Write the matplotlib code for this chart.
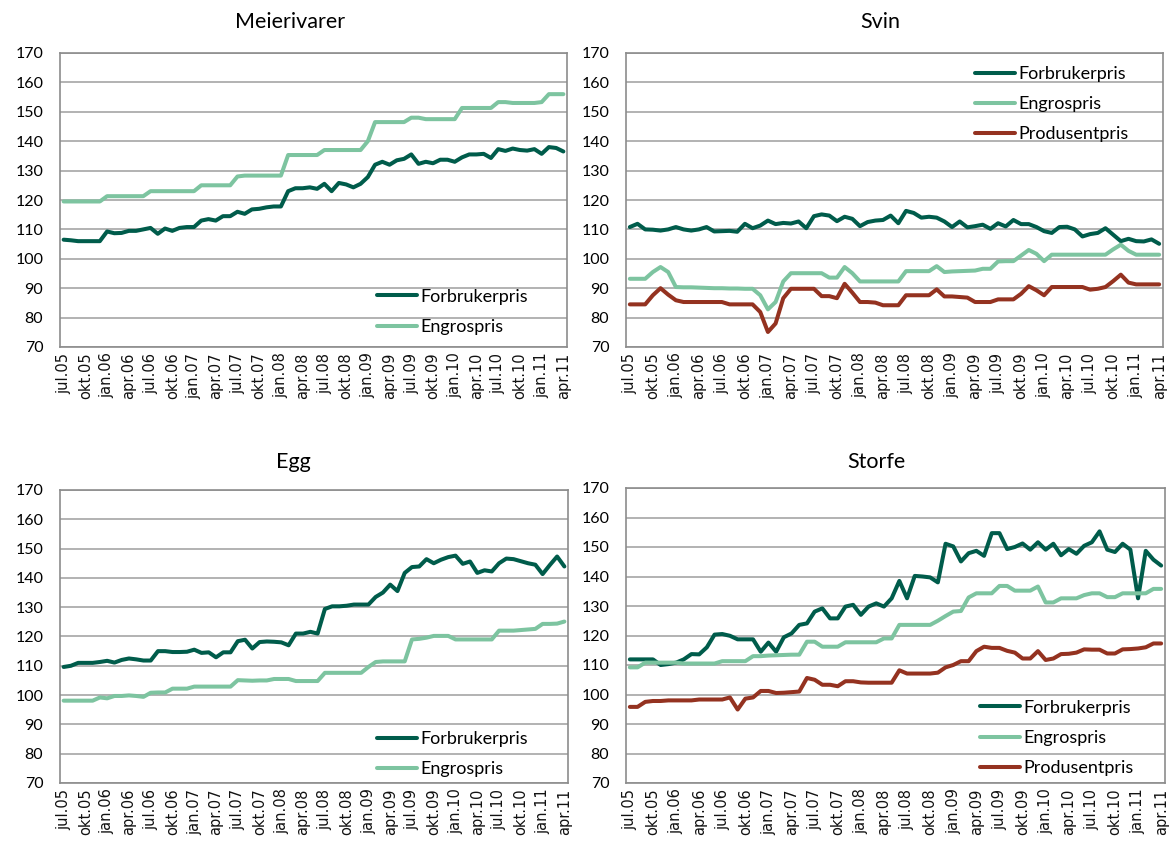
import matplotlib
matplotlib.use("Agg")
import matplotlib.pyplot as plt

# ---------------- data ----------------
tick_labels = ["jul.05", "okt.05", "jan.06", "apr.06", "jul.06", "okt.06",
               "jan.07", "apr.07", "jul.07", "okt.07", "jan.08", "apr.08",
               "jul.08", "okt.08", "jan.09", "apr.09", "jul.09", "okt.09",
               "jan.10", "apr.10", "jul.10", "okt.10", "jan.11", "apr.11"]

meieri_forbruker = [106.5, 106.3, 106.0, 106.0, 106.0, 106.0, 109.3, 108.7, 108.8, 109.5,
                    109.5, 110.0, 110.5, 108.5, 110.3, 109.5, 110.5, 110.8, 110.8, 113.0,
                    113.5, 113.0, 114.5, 114.5, 116.0, 115.3, 116.8, 117.0, 117.5, 117.8,
                    117.8, 123.0, 124.0, 124.0, 124.3, 123.8, 125.5, 123.0, 125.8, 125.3,
                    124.3, 125.5, 127.8, 132.0, 133.0, 132.0, 133.5, 134.0, 135.5, 132.3,
                    133.0, 132.5, 133.7, 133.7, 133.0, 134.5, 135.5, 135.5, 135.7, 134.3,
                    137.3, 136.7, 137.5, 137.0, 136.8, 137.3, 135.7, 138.0, 137.7, 136.5]
meieri_engros = [119.5, 119.5, 119.5, 119.5, 119.5, 119.5, 121.3, 121.3, 121.3, 121.3,
                 121.3, 121.3, 123.0, 123.0, 123.0, 123.0, 123.0, 123.0, 123.0, 125.0,
                 125.0, 125.0, 125.0, 125.0, 128.0, 128.3, 128.3, 128.3, 128.3, 128.3,
                 128.3, 135.3, 135.3, 135.3, 135.3, 135.3, 137.0, 137.0, 137.0, 137.0,
                 137.0, 137.0, 140.0, 146.5, 146.5, 146.5, 146.5, 146.5, 148.0, 148.0,
                 147.5, 147.5, 147.5, 147.5, 147.5, 151.3, 151.3, 151.3, 151.3, 151.3,
                 153.3, 153.3, 153.0, 153.0, 153.0, 153.0, 153.3, 156.0, 156.0, 156.0]

svin_forbruker = [110.8, 111.9, 110.0, 109.9, 109.6, 110.0, 110.8, 110.0, 109.6, 110.0,
                  110.8, 109.3, 109.4, 109.5, 109.2, 111.9, 110.4, 111.3, 113.0, 111.8,
                  112.2, 112.0, 112.7, 110.4, 114.5, 115.1, 114.7, 112.8, 114.3, 113.6,
                  111.1, 112.5, 113.0, 113.2, 114.7, 112.1, 116.3, 115.6, 114.0, 114.3,
                  114.0, 112.7, 110.8, 112.7, 110.7, 111.1, 111.6, 110.2, 112.1, 111.0,
                  113.2, 111.8, 111.8, 110.8, 109.4, 108.8, 110.8, 110.9, 110.0, 107.6,
                  108.4, 108.8, 110.4, 108.2, 106.0, 106.8, 106.0, 105.9, 106.6, 105.1]
svin_engros = [93.2, 93.2, 93.2, 95.5, 97.2, 95.5, 90.4, 90.3, 90.3, 90.2,
               90.1, 90.0, 90.0, 89.9, 89.9, 89.8, 89.8, 87.6, 82.8, 85.3,
               92.3, 95.1, 95.1, 95.1, 95.1, 95.1, 93.6, 93.6, 97.2, 95.1,
               92.3, 92.3, 92.3, 92.3, 92.3, 92.3, 95.8, 95.8, 95.8, 95.8,
               97.5, 95.5, 95.7, 95.8, 95.9, 96.0, 96.6, 96.6, 99.1, 99.2,
               99.2, 101.1, 103.0, 101.7, 99.2, 101.4, 101.4, 101.4, 101.4, 101.4,
               101.4, 101.4, 101.4, 103.2, 104.8, 102.7, 101.4, 101.4, 101.4, 101.4]
svin_produsent = [84.5, 84.5, 84.5, 87.6, 90.0, 87.8, 85.9, 85.3, 85.3, 85.3,
                  85.3, 85.3, 85.3, 84.5, 84.5, 84.5, 84.5, 81.9, 75.1, 78.0,
                  86.6, 89.8, 89.8, 89.8, 89.8, 87.3, 87.3, 86.6, 91.5, 88.5,
                  85.3, 85.3, 85.1, 84.2, 84.2, 84.2, 87.6, 87.6, 87.6, 87.6,
                  89.6, 87.2, 87.2, 87.0, 86.8, 85.3, 85.3, 85.3, 86.2, 86.2,
                  86.2, 88.1, 90.7, 89.3, 87.6, 90.4, 90.4, 90.4, 90.4, 90.4,
                  89.5, 89.8, 90.4, 92.4, 94.6, 91.9, 91.3, 91.3, 91.3, 91.3]

egg_forbruker = [109.6, 110.0, 111.0, 111.0, 111.0, 111.3, 111.7, 111.1, 112.0, 112.5,
                 112.2, 111.8, 111.8, 115.0, 115.0, 114.7, 114.7, 114.8, 115.5, 114.4,
                 114.6, 112.9, 114.6, 114.6, 118.4, 118.9, 115.9, 118.1, 118.3, 118.2,
                 118.0, 117.0, 121.0, 121.0, 121.6, 121.0, 129.4, 130.3, 130.3, 130.5,
                 130.9, 130.9, 130.9, 133.5, 135.0, 137.7, 135.5, 141.7, 143.7, 143.9,
                 146.4, 145.0, 146.2, 147.1, 147.6, 144.8, 145.6, 141.7, 142.6, 142.2,
                 145.0, 146.6, 146.4, 145.7, 145.0, 144.5, 141.3, 144.4, 147.3, 143.9]
egg_engros = [98.1, 98.1, 98.1, 98.1, 98.1, 99.2, 98.9, 99.7, 99.7, 99.9,
              99.7, 99.4, 100.8, 100.9, 100.9, 102.2, 102.2, 102.2, 102.9, 102.9,
              102.9, 102.9, 102.9, 102.9, 105.1, 105.0, 104.9, 105.0, 105.0, 105.5,
              105.5, 105.5, 104.8, 104.8, 104.8, 104.8, 107.6, 107.6, 107.6, 107.6,
              107.6, 107.6, 109.6, 111.3, 111.5, 111.5, 111.5, 111.5, 119.0, 119.2,
              119.6, 120.2, 120.2, 120.2, 119.0, 119.0, 119.0, 119.0, 119.0, 119.0,
              122.0, 122.0, 122.0, 122.2, 122.4, 122.6, 124.3, 124.3, 124.4, 125.1]

storfe_forbruker = [111.9, 111.9, 111.9, 111.9, 110.0, 110.3, 110.8, 111.9, 113.7, 113.6,
                    116.0, 120.3, 120.5, 119.9, 118.7, 118.7, 118.7, 114.5, 117.6, 114.5,
                    119.4, 120.7, 123.6, 124.1, 128.1, 129.2, 125.8, 125.8, 129.8, 130.4,
                    127.0, 129.8, 130.9, 129.8, 132.6, 138.5, 132.6, 140.2, 140.0, 139.7,
                    138.0, 151.1, 150.2, 145.1, 147.9, 148.7, 147.0, 154.7, 154.7, 149.3,
                    150.0, 151.2, 149.1, 151.6, 149.1, 151.1, 147.2, 149.3, 147.7, 150.4,
                    151.6, 155.3, 149.1, 148.3, 151.1, 149.1, 132.6, 148.7, 145.7, 143.7]
storfe_engros = [109.2, 109.2, 110.8, 110.8, 110.8, 110.8, 110.8, 110.5, 110.5, 110.5,
                 110.5, 110.5, 111.3, 111.3, 111.3, 111.3, 113.0, 113.0, 113.2, 113.3,
                 113.4, 113.5, 113.5, 117.9, 117.9, 116.2, 116.2, 116.2, 117.7, 117.7,
                 117.7, 117.7, 117.7, 119.0, 119.0, 123.6, 123.6, 123.6, 123.6, 123.6,
                 125.0, 126.6, 128.1, 128.3, 132.9, 134.3, 134.3, 134.3, 136.8, 136.8,
                 135.2, 135.2, 135.2, 136.6, 131.2, 131.2, 132.6, 132.6, 132.6, 133.7,
                 134.3, 134.3, 133.0, 133.0, 134.3, 134.3, 134.3, 134.3, 135.8, 135.8]
storfe_produsent = [95.8, 95.8, 97.5, 97.8, 97.8, 98.0, 98.0, 98.0, 98.0, 98.3,
                    98.3, 98.3, 98.3, 99.0, 94.9, 98.6, 99.0, 101.2, 101.2, 100.5,
                    100.6, 100.8, 101.0, 105.6, 105.0, 103.3, 103.3, 102.8, 104.5, 104.5,
                    104.1, 104.0, 104.0, 104.0, 104.0, 108.2, 107.1, 107.1, 107.1, 107.1,
                    107.4, 109.2, 110.0, 111.3, 111.3, 114.7, 116.2, 115.8, 115.8, 114.8,
                    114.2, 112.2, 112.2, 114.7, 111.7, 112.2, 113.7, 113.8, 114.2, 115.3,
                    115.2, 115.2, 113.9, 113.9, 115.3, 115.4, 115.6, 116.0, 117.3, 117.3]

titles = ["Meierivarer", "Svin", "Egg", "Storfe"]
series_names = ["Forbrukerpris", "Engrospris", "Produsentpris"]

# ---------------- style ----------------
C_DARK = "#005C4B"
C_LIGHT = "#7DC4A0"
C_RED = "#943220"
GRID = "#A6A6A6"
FRAME = "#8C8C8C"
LW = 2.9
FONT = "Lato"

fig = plt.figure(figsize=(11.69, 8.48), dpi=100)

W, H = 1169.0, 848.0
def box(x0, x1, y0, y1):
    return [x0 / W, 1 - y1 / H, (x1 - x0) / W, (y1 - y0) / H]

panels = [
    dict(rect=box(60, 567, 53, 347), title=titles[0], tx=290, ty=22,
         data=[meieri_forbruker, meieri_engros], leg=(0.625, 0.198)),
    dict(rect=box(626, 1163, 53, 347), title=titles[1], tx=880, ty=22,
         data=[svin_forbruker, svin_engros, svin_produsent], leg=(0.65, 0.956)),
    dict(rect=box(60, 568, 490, 783), title=titles[2], tx=293, ty=462,
         data=[egg_forbruker, egg_engros], leg=(0.624, 0.178)),
    dict(rect=box(626, 1165, 488, 783), title=titles[3], tx=876, ty=462,
         data=[storfe_forbruker, storfe_engros, storfe_produsent], leg=(0.657, 0.282)),
]

colors = [C_DARK, C_LIGHT, C_RED]

for p in panels:
    ax = fig.add_axes(p["rect"])
    n = len(p["data"][0])
    xs = list(range(n))
    for k, ser in enumerate(p["data"]):
        ax.plot(xs, ser, color=colors[k], lw=LW, label=series_names[k],
                solid_joinstyle="round", solid_capstyle="round", zorder=3)
    ax.set_xlim(-0.5, n - 0.5)
    ax.set_ylim(70, 170)
    ax.set_yticks(range(70, 171, 10))
    ax.yaxis.grid(True, color=GRID, lw=1.2, zorder=0)
    ax.set_axisbelow(True)
    ax.set_xticks(range(0, n, 3))
    ax.set_xticklabels(tick_labels, rotation=90, fontsize=10.5,
                       family="DejaVu Sans", color="#111111")
    for lab in ax.get_yticklabels():
        lab.set_family(FONT)
        lab.set_fontsize(11.5)
    ax.tick_params(axis="both", length=0)
    ax.tick_params(axis="x", pad=4)
    ax.tick_params(axis="y", pad=12)
    for sp in ax.spines.values():
        sp.set_color(FRAME)
        sp.set_linewidth(1.2)
    leg = ax.legend(loc="upper left", bbox_to_anchor=p["leg"], frameon=False,
                    prop=dict(family=FONT, size=13), handlelength=2.2,
                    handletextpad=0.2, labelspacing=0.79, borderaxespad=0,
                    borderpad=0)
    fig.text(p["tx"] / W, 1 - p["ty"] / H, p["title"], ha="center", va="center",
             family=FONT, fontsize=15.5)

fig.savefig("out.png", dpi=100)
